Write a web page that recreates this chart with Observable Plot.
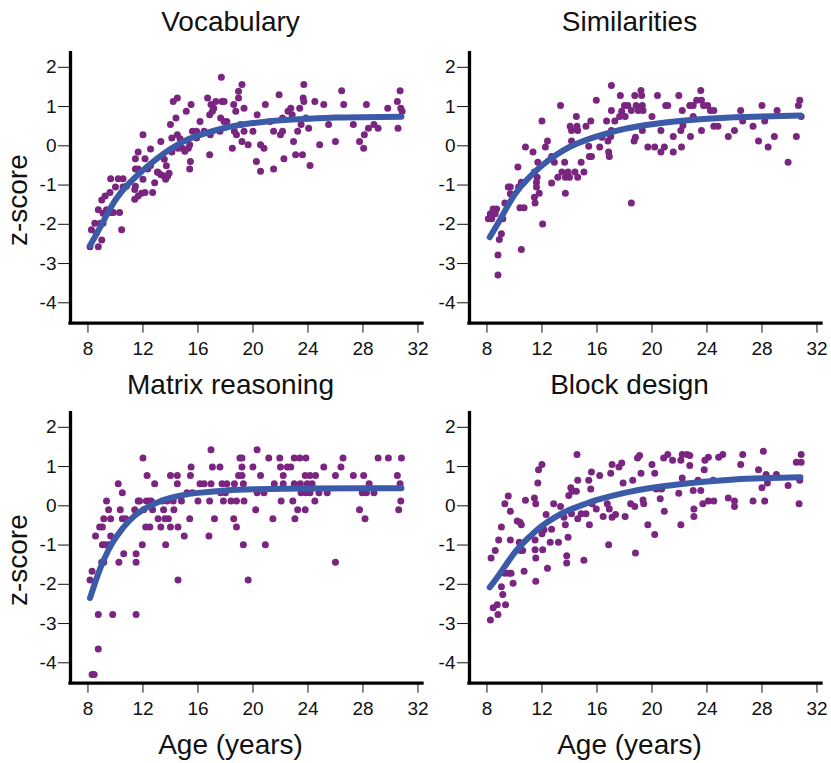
<!DOCTYPE html>
<html>
<head>
<meta charset="utf-8">
<script src="https://cdn.jsdelivr.net/npm/d3@7"></script>
<script src="https://cdn.jsdelivr.net/npm/@observablehq/plot@0.6"></script>
<style>
  html, body { margin: 0; padding: 0; background: #fff; }
  #fig { position: relative; width: 831px; height: 763px; overflow: hidden; background: #fff; }
  #fig > svg { position: absolute; }
</style>
</head>
<body>
<div id="fig"></div>
<script>
// ---------- data ----------
const titles = ["Vocabulary", "Similarities", "Matrix reasoning", "Block design"];
const xTicks = [8, 12, 16, 20, 24, 28, 32];
const yTicks = [-4, -3, -2, -1, 0, 1, 2];
const xLabel = "Age (years)";
const yLabel = "z-score";

// scatter points: [age, z]
const vocabPoints = [
[8.15,-2.57],[8.75,-2.57],[9.0,-2.40],[8.25,-2.14],[8.6,-2.23],[8.5,-1.97],[8.9,-1.97],[9.1,-1.97],
[8.75,-1.63],[9.1,-1.72],[9.35,-1.63],[9.0,-1.38],[9.25,-1.28],[9.6,-1.19],[9.7,-1.70],[9.85,-1.70],
[10.3,-1.70],[10.45,-2.14],[9.65,-0.84],[10.2,-0.84],[10.55,-0.84],[10.55,-1.05],[10.8,-1.03],[10.0,-1.05],
[11.4,-1.36],[11.65,-1.28],[11.9,-1.21],[12.15,-1.19],[11.4,-1.11],[11.45,-1.03],[12.0,-0.85],[11.45,-0.59],
[11.65,-0.59],[11.45,-0.33],[11.65,-0.16],[12.0,0.28],[12.15,-0.33],[12.35,-0.59],[12.55,-0.50],[12.55,-0.08],
[12.7,-1.19],[12.85,-0.94],[13.05,-0.67],[13.3,0.11],[13.55,-0.34],[13.7,-0.51],[13.1,-0.68],[13.3,-0.74],
[13.55,-0.77],[13.65,-0.85],[13.8,-0.77],[13.9,-0.70],[14.0,0.54],[14.1,0.20],[14.1,-0.16],[14.2,1.13],
[14.4,0.71],[14.5,1.22],[14.5,0.28],[14.7,0.18],[14.55,-0.06],[14.85,-0.06],[15.05,-0.14],[15.15,0.88],
[15.3,-0.06],[15.4,0.03],[15.45,-0.40],[15.4,-0.59],[15.5,1.05],[15.6,0.37],[15.9,0.37],[15.9,0.20],
[16.15,0.62],[16.45,0.37],[16.7,1.22],[16.85,-0.23],[16.85,0.79],[16.95,1.05],[17.05,0.88],[17.15,0.96],
[17.3,1.13],[16.9,0.28],[17.7,1.75],[17.75,1.13],[17.9,1.13],[17.65,0.71],[17.9,0.62],[17.6,0.37],
[18.1,0.62],[18.5,-0.06],[18.6,1.05],[18.75,0.88],[18.65,0.37],[18.8,0.28],[18.95,1.22],[18.95,1.39],
[19.2,1.56],[19.35,0.96],[19.2,0.11],[19.35,0.37],[19.1,0.54],[19.65,0.03],[20.0,0.37],[20.25,-0.40],
[20.3,0.79],[20.55,0.03],[20.55,-0.65],[20.8,-0.06],[20.9,1.05],[21.25,0.62],[21.5,0.37],[21.5,-0.59],
[21.9,1.30],[22.0,0.28],[22.15,0.37],[22.15,0.71],[22.25,-0.33],[22.55,0.88],[22.75,0.96],[22.85,0.79],
[22.95,0.11],[23.1,-0.23],[23.25,0.37],[23.4,0.96],[23.5,0.54],[23.6,-0.23],[23.7,1.56],[23.65,1.22],
[23.7,1.13],[23.85,0.71],[24.05,0.45],[24.15,-0.50],[24.5,1.13],[24.85,0.03],[25.15,1.05],[25.5,0.54],
[26.0,0.11],[26.45,1.40],[26.6,1.05],[27.3,0.54],[27.75,0.11],[28.05,-0.06],[28.1,0.28],[28.25,1.05],
[28.4,0.45],[28.8,0.54],[29.1,0.45],[29.8,0.96],[30.5,1.13],[30.55,0.45],[30.7,1.40],[30.75,0.96],[30.85,0.88]
];
const simPoints = [
[8.8,-3.29],[8.8,-2.78],[8.9,-2.39],[9.05,-2.24],[8.1,-1.86],[8.25,-1.73],[8.45,-1.61],[8.35,-1.86],
[8.7,-1.61],[8.6,-1.73],[9.15,-1.86],[9.3,-1.46],[9.55,-1.05],[9.7,-1.05],[9.7,-1.22],[10.25,-0.54],
[10.3,-1.05],[10.5,-0.93],[10.4,-1.58],[10.7,-1.58],[10.5,-2.64],[10.8,-0.03],[11.35,-0.16],[11.45,-0.67],
[11.6,-1.05],[11.45,-1.31],[11.5,-1.46],[11.8,-1.21],[11.6,-0.93],[11.65,-0.80],[11.7,-0.42],[12.0,0.63],
[12.05,-1.99],[12.25,-0.03],[12.4,0.12],[12.7,-0.27],[12.7,-0.95],[12.9,-0.42],[13.15,-0.80],[13.35,1.03],
[13.45,-0.67],[13.65,-0.42],[13.7,-0.80],[13.7,-1.21],[13.9,-0.67],[14.0,-0.80],[14.15,0.12],[14.05,0.50],
[14.15,0.39],[14.5,0.75],[14.55,0.50],[14.6,0.39],[14.4,-0.67],[14.6,-0.80],[14.85,-0.42],[15.05,-0.67],
[15.2,0.50],[15.4,-0.01],[15.55,0.63],[15.45,-0.27],[15.6,-0.27],[15.95,1.16],[16.2,-0.03],[16.35,0.22],
[16.7,0.63],[16.8,0.12],[16.85,-0.16],[16.9,-0.27],[17.0,0.24],[17.05,0.90],[17.05,1.54],[17.05,0.39],
[17.3,0.63],[17.65,0.75],[17.7,1.28],[17.8,0.88],[18.0,1.03],[18.05,0.75],[18.25,1.03],[18.5,0.90],
[18.5,-1.46],[18.75,1.28],[18.7,0.12],[18.8,0.22],[18.85,1.03],[19.0,0.90],[19.2,1.41],[19.25,1.28],
[19.3,1.03],[19.35,0.90],[19.3,0.39],[19.7,-0.03],[20.0,0.75],[20.2,-0.03],[20.4,1.28],[20.65,-0.16],
[20.65,0.39],[20.9,-0.03],[21.0,1.03],[21.15,1.03],[21.55,-0.16],[21.55,0.24],[21.95,1.28],[22.1,0.39],
[22.15,-0.03],[22.2,0.90],[22.25,0.52],[22.75,1.03],[22.8,0.24],[23.0,1.03],[23.0,0.75],[23.25,1.16],
[23.55,1.41],[23.6,1.16],[23.6,0.39],[23.75,1.03],[24.05,1.03],[24.25,0.90],[24.5,0.90],[24.5,0.50],
[24.8,0.50],[25.55,0.24],[26.0,0.39],[26.45,0.90],[26.6,0.63],[27.35,0.50],[27.75,0.12],[28.0,1.03],
[28.2,0.63],[28.45,-0.03],[28.9,0.24],[29.1,0.90],[29.9,-0.42],[30.5,0.24],[30.65,1.03],[30.75,1.16],[30.85,0.75]
];
const matrixPoints = [
[8.3,-4.30],[8.45,-4.30],[8.75,-3.65],[8.75,-2.77],[9.8,-2.77],[11.5,-2.77],[8.15,-1.89],[8.3,-1.67],
[8.55,-0.77],[8.85,-0.54],[9.05,-0.54],[9.05,-0.99],[9.0,-1.44],[9.15,-1.44],[9.25,-0.99],[9.35,0.12],
[9.15,-0.33],[9.5,-0.10],[9.5,-0.99],[9.65,-0.33],[9.65,-0.77],[10.2,0.56],[10.25,-1.44],[10.35,-0.10],
[10.5,0.33],[10.5,-0.33],[10.6,-1.22],[10.75,-0.33],[11.4,-0.10],[11.5,-1.22],[11.5,-1.44],[11.65,0.12],
[11.75,0.12],[11.95,-0.99],[12.0,1.22],[12.05,-0.10],[12.25,0.12],[12.3,0.77],[12.2,-0.54],[12.5,-0.54],
[12.45,0.12],[12.6,0.12],[12.7,-0.10],[12.85,0.56],[13.1,-0.33],[13.3,-0.54],[13.4,0.12],[13.5,-0.10],
[13.6,-0.33],[13.65,-0.99],[13.75,0.12],[13.85,-0.33],[14.0,0.77],[14.0,-0.54],[14.2,0.12],[14.25,-0.10],
[14.5,0.77],[14.5,0.56],[14.55,-0.54],[14.55,-1.89],[14.8,0.12],[15.0,-0.77],[15.2,0.33],[15.4,-0.33],
[15.45,0.77],[15.5,0.99],[15.6,0.33],[16.0,0.12],[16.15,0.56],[16.45,0.56],[16.8,-0.77],[16.85,0.12],
[16.95,1.43],[17.05,0.99],[16.95,0.56],[17.2,-0.33],[17.6,0.99],[17.65,0.33],[17.75,0.56],[17.85,0.12],
[18.1,0.56],[18.0,0.33],[18.4,0.12],[18.6,-0.33],[18.65,0.56],[18.8,-0.54],[18.8,0.12],[18.95,0.77],
[19.05,1.22],[19.2,1.22],[19.2,0.99],[19.2,0.77],[19.3,0.56],[19.35,0.12],[19.3,-0.99],[19.65,-1.89],
[20.0,0.99],[20.2,-0.10],[20.3,1.43],[20.3,0.33],[20.55,0.77],[20.8,0.33],[20.9,-0.99],[21.15,1.22],
[21.45,-0.33],[21.55,0.56],[21.95,1.22],[22.0,0.99],[22.05,0.12],[22.2,0.77],[22.2,0.56],[22.5,0.99],
[22.75,0.99],[22.9,0.12],[23.0,0.56],[23.0,1.22],[23.05,-0.33],[23.25,-0.10],[23.4,1.22],[23.45,0.56],
[23.5,0.33],[23.8,-0.10],[23.85,1.22],[23.8,0.77],[23.85,0.33],[23.95,0.56],[24.15,0.33],[24.15,0.77],
[24.3,0.56],[24.5,0.12],[24.55,0.77],[24.8,0.33],[25.15,0.99],[25.4,0.33],[26.0,-1.44],[26.0,0.77],
[26.4,0.99],[26.55,1.22],[27.3,0.77],[27.75,-0.10],[27.95,0.33],[28.05,0.77],[28.15,-0.33],[28.25,0.33],
[28.45,0.56],[28.8,0.33],[29.1,1.22],[29.85,1.22],[30.5,0.77],[30.6,-0.10],[30.7,0.56],[30.75,0.12],[30.8,1.22]
];
const blockPoints = [
[8.25,-2.91],[8.8,-2.77],[8.45,-2.60],[8.75,-2.52],[9.35,-2.52],[9.15,-2.26],[9.05,-2.06],[9.9,-1.97],
[9.3,-1.72],[9.6,-1.72],[9.75,-1.72],[8.3,-1.33],[8.6,-1.14],[8.85,-0.87],[9.05,-0.54],[9.3,0.05],
[9.55,0.25],[9.7,-0.14],[9.7,-0.87],[10.2,-0.39],[10.4,-0.42],[10.5,-0.48],[10.35,-0.93],[10.45,-1.14],
[10.6,-1.14],[10.7,-1.67],[10.8,0.14],[11.45,0.20],[11.55,0.05],[11.5,-0.87],[11.5,-1.12],[11.55,-1.33],
[11.55,-1.92],[11.7,0.58],[11.75,0.92],[12.0,1.05],[12.0,-0.71],[12.05,-1.12],[12.15,-0.61],[12.3,-0.22],
[12.4,-1.59],[12.6,-0.93],[12.7,-0.60],[12.85,0.05],[13.2,-0.93],[13.35,-0.02],[13.6,-0.29],[13.7,-0.48],
[13.8,-1.27],[13.8,-1.46],[13.9,-0.80],[13.95,0.26],[14.1,0.46],[14.15,-0.20],[14.2,0.37],[14.5,0.37],
[14.55,1.31],[14.6,0.65],[14.6,-0.33],[14.85,-0.20],[15.05,-1.39],[15.2,-0.20],[15.4,0.65],[15.45,-0.48],
[15.55,0.43],[15.6,0.86],[15.65,0.05],[15.95,-0.08],[16.2,0.77],[16.45,-0.27],[16.75,0.05],[16.85,-0.99],
[16.9,-0.08],[17.0,0.83],[17.1,1.05],[17.1,-0.29],[17.35,-0.22],[17.6,0.99],[17.8,1.09],[17.9,0.58],
[18.05,-0.27],[18.45,0.05],[18.6,0.65],[18.75,-0.02],[18.8,-1.20],[18.95,1.22],[19.1,1.28],[19.2,0.83],
[19.35,0.15],[19.4,0.05],[19.7,-0.48],[20.0,1.05],[20.2,0.83],[20.2,-0.73],[20.3,0.43],[20.6,0.18],
[20.7,0.43],[20.85,1.22],[20.9,-0.14],[21.15,1.31],[21.5,1.16],[21.95,0.32],[22.1,-0.48],[22.1,1.16],
[22.2,0.71],[22.2,1.31],[22.55,1.31],[22.75,1.28],[22.75,1.03],[23.0,0.39],[23.05,-0.08],[23.05,-0.27],
[23.35,0.65],[23.55,0.39],[23.7,0.05],[23.8,0.92],[23.85,1.16],[24.1,1.24],[24.1,0.12],[24.45,0.65],
[24.5,0.12],[24.85,1.24],[25.15,1.31],[25.55,0.20],[26.0,0.12],[26.0,-0.02],[26.45,1.05],[26.6,1.31],
[27.35,0.12],[27.75,0.92],[28.0,0.46],[28.1,1.39],[28.2,0.12],[28.3,0.80],[28.4,0.58],[29.05,0.80],
[29.9,0.52],[30.5,1.11],[30.7,0.05],[30.75,0.65],[30.85,1.31],[30.85,1.11]
];

// fitted curves: [age, z]
const vocabCurve = [[8.15,-2.54],[9,-2.0],[10,-1.38],[11,-0.95],[12,-0.62],[13,-0.33],[14,-0.08],[15,0.12],[16,0.26],[18,0.46],[20,0.58],[22,0.65],[24,0.69],[26,0.72],[28,0.73],[30.8,0.74]];
const simCurve = [[8.2,-2.33],[9,-1.85],[10,-1.25],[11,-0.83],[12,-0.50],[13,-0.24],[14,-0.03],[15,0.12],[16,0.24],[18,0.43],[20,0.55],[22,0.63],[24,0.69],[26,0.73],[28,0.75],[30.8,0.77]];
const matrixCurve = [[8.15,-2.35],[8.5,-1.98],[9,-1.50],[9.5,-1.12],[10,-0.82],[11,-0.38],[12,-0.10],[13,0.08],[14,0.20],[15,0.28],[16,0.33],[18,0.39],[20,0.42],[24,0.44],[28,0.45],[30.8,0.45]];
const blockCurve = [[8.2,-2.08],[9,-1.70],[10,-1.20],[11,-0.82],[12,-0.51],[13,-0.28],[14,-0.10],[15,0.03],[16,0.15],[18,0.33],[20,0.46],[22,0.55],[24,0.62],[26,0.67],[28,0.70],[30.8,0.73]];

// ---------- drawing ----------
const PURPLE = "#7a2580";
const BLUE = "#3b5ba8";
const FONT = "'Liberation Sans', Arial, Helvetica, sans-serif";
const X_DOMAIN = [6.73, 32.33];
const Y_DOMAIN = [-4.52, 2.36];

function panel({points, curve, title, left, top, marginLeft, width, height, marginBottom, titleDy, showZ, showAge}) {
  const marks = [
    Plot.ruleX([X_DOMAIN[0]], {strokeWidth: 3.3, stroke: "#000", strokeLinecap: "square"}),
    Plot.ruleY([Y_DOMAIN[0]], {strokeWidth: 3.3, stroke: "#000", strokeLinecap: "square"}),
    Plot.dot(points, {x: d => d[0], y: d => d[1], r: 3.5, fill: PURPLE, stroke: null}),
    Plot.line(curve, {x: d => d[0], y: d => d[1], stroke: BLUE, strokeWidth: 6, curve: "natural", strokeLinecap: "round"}),
    Plot.text([title], {text: d => d, frameAnchor: "top-left", dx: 160, dy: titleDy, textAnchor: "middle", lineAnchor: "bottom", fontSize: 28, fill: "#111"})
  ];
  if (showZ) {
    marks.push(Plot.text([yLabel], {text: d => d, frameAnchor: "left", dx: -52, dy: 12, rotate: -90, textAnchor: "middle", lineAnchor: "middle", fontSize: 28, fill: "#111"}));
  }
  if (showAge) {
    marks.push(Plot.text([xLabel], {text: d => d, frameAnchor: "bottom-left", dx: 160, dy: 70.3, textAnchor: "middle", lineAnchor: "bottom", fontSize: 28, fill: "#111"}));
  }
  const svg = Plot.plot({
    width, height,
    marginLeft, marginRight: 10, marginTop: 52.7, marginBottom,
    x: {domain: X_DOMAIN, ticks: xTicks, tickSize: 10, tickPadding: 8, label: null, tickFormat: d => String(d)},
    y: {domain: Y_DOMAIN, ticks: yTicks, tickSize: 12, tickPadding: 2, label: null, tickFormat: d => String(d)},
    style: {fontFamily: FONT, fontSize: "19px", color: "#111", background: "transparent", overflow: "visible"},
    marks
  });
  svg.style.left = left + "px";
  svg.style.top = top + "px";
  return svg;
}

const fig = document.getElementById("fig");
fig.appendChild(panel({points: vocabPoints, curve: vocabCurve, title: titles[0], left: 0, top: 0, marginLeft: 70, width: 432, height: 360, marginBottom: 37.3, titleDy: -22.7, showZ: true, showAge: false}));
fig.appendChild(panel({points: simPoints, curve: simCurve, title: titles[1], left: 415, top: 0, marginLeft: 54, width: 416, height: 360, marginBottom: 37.3, titleDy: -22.7, showZ: false, showAge: false}));
fig.appendChild(panel({points: matrixPoints, curve: matrixCurve, title: titles[2], left: 0, top: 360, marginLeft: 70, width: 432, height: 403, marginBottom: 80.3, titleDy: -19.7, showZ: true, showAge: true}));
fig.appendChild(panel({points: blockPoints, curve: blockCurve, title: titles[3], left: 415, top: 360, marginLeft: 54, width: 416, height: 403, marginBottom: 80.3, titleDy: -19.7, showZ: false, showAge: true}));
</script>
</body>
</html>
